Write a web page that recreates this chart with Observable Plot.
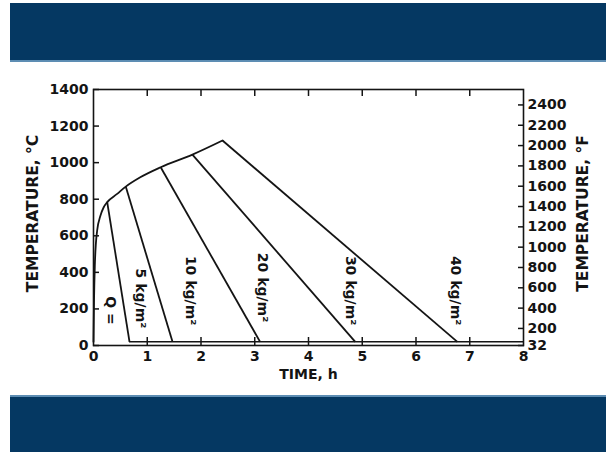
<!DOCTYPE html>
<html><head><meta charset="utf-8">
<script src="https://cdn.jsdelivr.net/npm/d3@7"></script>
<script src="https://cdn.jsdelivr.net/npm/@observablehq/plot@0.6"></script>
<style>
html,body{margin:0;padding:0;background:#fff;width:610px;height:453px;overflow:hidden;}
#wrap{position:relative;width:610px;height:453px;background:#fff;}
.band{position:absolute;left:10px;width:596px;background:#053862;}
#top{top:3px;height:57px;border-bottom:2px solid #5d8db3;}
#bot{top:395px;height:55px;border-top:2px solid #5d8db3;}
#chart{position:absolute;left:0;top:62px;}
</style></head>
<body>
<div id="wrap"><div class="band" id="top"></div><div id="chart"></div><div class="band" id="bot"></div></div>
<script>
// Heating curve (time in h, temperature in °C)
const heatTime = [0, 0.01, 0.025, 0.045, 0.068, 0.13, 0.19, 0.255, 0.44, 0.6, 0.87, 1.25, 1.84, 2.4];
const heatTemp = [20, 250, 440, 560, 629, 711, 756, 784, 829, 869, 920, 975, 1044, 1121];
// Cooling branches for each fire load
const loadLabels = ["5 kg/m²", "10 kg/m²", "20 kg/m²", "30 kg/m²", "40 kg/m²"];
const coolStartTime = [0.255, 0.6, 1.25, 1.84, 2.4];
const coolStartTemp = [784, 869, 975, 1044, 1121];
const coolEndTime = [0.67, 1.47, 3.1, 4.87, 6.77];
const ambientTemp = 20;
// Label anchor points (data units)
const labelTime = [0.87, 1.80, 3.14, 4.78, 6.73];
const labelTemp = [257, 300, 317, 300, 300];
const qLabel = "Q =";
const qTime = 0.32, qTemp = 191;
// Axes
const timeTicks = [0, 1, 2, 3, 4, 5, 6, 7, 8];
const celsiusTicks = [0, 200, 400, 600, 800, 1000, 1200, 1400];
const fahrenheitTicks = [32, 200, 400, 600, 800, 1000, 1200, 1400, 1600, 1800, 2000, 2200, 2400];
const xTitle = "TIME, h";
const yTitleC = "TEMPERATURE, °C";
const yTitleF = "TEMPERATURE, °F";

const fToC = f => (f - 32) * 5 / 9;
const heat = heatTime.map((t, i) => ({t, T: heatTemp[i]}));
const cool = loadLabels.map((name, i) => ({name, t1: coolStartTime[i], T1: coolStartTemp[i], t2: coolEndTime[i], T2: ambientTemp}));
const labels = loadLabels.map((name, i) => ({name, t: labelTime[i], T: labelTemp[i]}));
const innerTime = timeTicks.slice(1, -1);
const blank = () => "";
const plain = d => String(d);
const ink = "#141414";

const chart = Plot.plot({
  width: 610, height: 333,
  marginLeft: 93, marginRight: 87, marginTop: 27, marginBottom: 50,
  style: {fontFamily: "DejaVu Sans", fontSize: "14px", fontWeight: "bold", color: ink, background: "transparent"},
  x: {domain: [0, 8], axis: null},
  y: {domain: [0, 1400], axis: null},
  marks: [
    Plot.ruleY([ambientTemp], {x1: d3.min(coolEndTime), x2: d3.max(timeTicks), stroke: ink, strokeWidth: 1.5}),
    Plot.line(heat, {x: "t", y: "T", curve: "monotone-x", stroke: ink, strokeWidth: 1.8}),
    Plot.link(cool, {x1: "t1", y1: "T1", x2: "t2", y2: "T2", stroke: ink, strokeWidth: 1.8}),
    Plot.frame({stroke: ink, strokeWidth: 1.6}),
    // left axis
    Plot.axisY(celsiusTicks, {anchor: "left", tickSize: 0, tickPadding: 5, tickFormat: plain, label: null}),
    Plot.axisY(celsiusTicks, {anchor: "left", tickSize: 6, dx: 6, tickFormat: blank, label: null, strokeWidth: 1.5}),
    // right axis (°F)
    Plot.axisY(fahrenheitTicks.map(fToC), {anchor: "right", tickSize: 0, tickPadding: 4, tickFormat: c => String(Math.round(c * 9 / 5 + 32)), label: null}),
    Plot.axisY(fahrenheitTicks.map(fToC), {anchor: "right", tickSize: 6, dx: -6, tickFormat: blank, label: null, strokeWidth: 1.5}),
    // top ticks
    Plot.axisX(innerTime, {anchor: "top", tickSize: 6, dy: 6, tickFormat: blank, label: null, strokeWidth: 1.5}),
    // bottom axis
    Plot.axisX(timeTicks, {anchor: "bottom", tickSize: 0, tickPadding: 6, tickFormat: plain, label: null}),
    Plot.axisX(innerTime, {anchor: "bottom", tickSize: 8, dy: -8, tickFormat: blank, label: null, strokeWidth: 1.5}),
    // titles
    Plot.text([yTitleC], {frameAnchor: "left", textAnchor: "middle", lineAnchor: "middle", dx: -60, dy: -4, rotate: -90, text: d => d, fontSize: 15.5, fill: ink}),
    Plot.text([yTitleF], {frameAnchor: "right", textAnchor: "middle", lineAnchor: "middle", dx: 60, dy: -4, rotate: -90, text: d => d, fontSize: 15.5, fill: ink}),
    Plot.text([xTitle], {frameAnchor: "bottom", textAnchor: "middle", lineAnchor: "middle", dy: 29, text: d => d, fontSize: 14, fill: ink}),
    // load labels
    Plot.text(labels, {x: "t", y: "T", text: "name", rotate: 90, fontSize: 14, fill: ink}),
    Plot.text([qLabel], {x: () => qTime, y: () => qTemp, text: d => d, rotate: 90, fontSize: 14, fill: ink})
  ]
});
document.getElementById("chart").appendChild(chart);
</script>
</body></html>
